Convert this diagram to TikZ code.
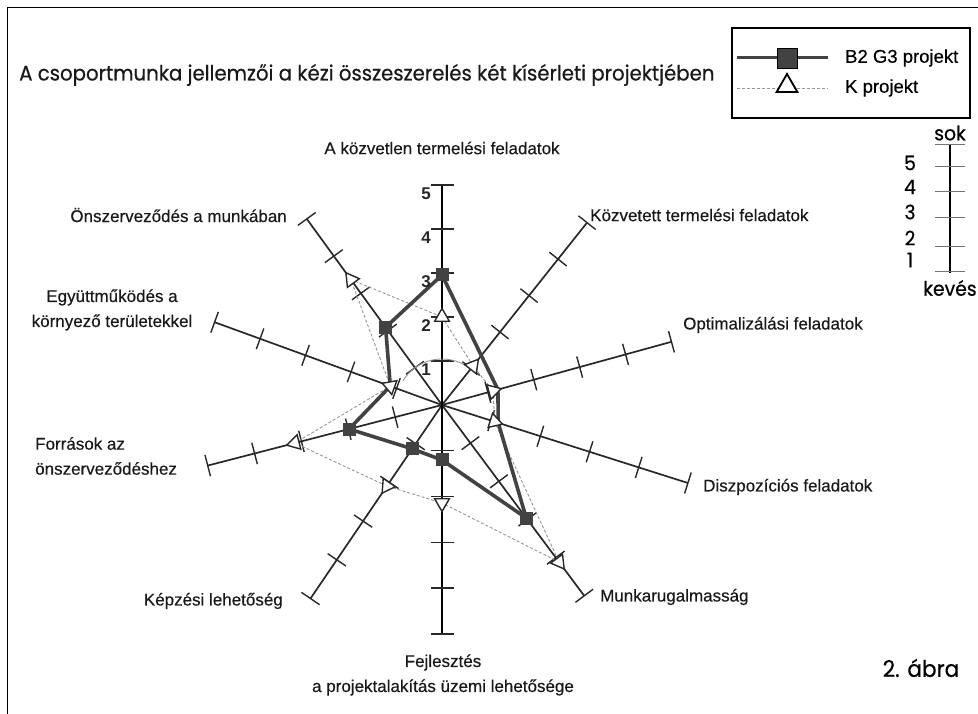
\documentclass[tikz,border=0pt]{standalone}
\usepackage{fontspec}
\setmainfont{Liberation Sans}
\newfontfamily\lblfont[FakeBold=0.35]{Liberation Sans}
\newfontfamily\geofont[FakeStretch=0.94, FakeBold=0.5]{Poppins}
\usetikzlibrary{shapes.geometric}
\definecolor{axisgray}{RGB}{40,40,40}
\definecolor{seriesdark}{RGB}{66,66,66}
\definecolor{serieslight}{RGB}{150,150,150}

\begin{document}
\begin{tikzpicture}[x=1pt, y=1pt]
        \tikzstyle{axis} = [draw=axisgray, line width=1.7pt];
        \tikzstyle{mainaxis} = [draw=black, line width=2.3pt];
        \tikzstyle{tick} = [draw=axisgray, line width=1.4pt];
        \tikzstyle{seriesa} = [draw=seriesdark, line width=3.6pt, line join=round];
        \tikzstyle{seriesb} = [draw=serieslight, line width=0.9pt, dash pattern=on 3pt off 2pt];
        \tikzstyle{sqmark} = [rectangle, fill=seriesdark, minimum size=13pt, inner sep=0pt];
        \tikzstyle{trimark} = [regular polygon, regular polygon sides=3, draw=axisgray, fill=white, line width=1.4pt, minimum size=17pt, inner sep=0pt];
        \tikzstyle{axlabel} = [font=\lblfont\fontsize{17}{25}\selectfont, text=black!90, inner sep=0pt];
        \tikzstyle{axnum} = [font=\bfseries\fontsize{17}{20}\selectfont, text=black!85, inner sep=0pt];
        \tikzstyle{geotext} = [font=\geofont\fontsize{20}{24}\selectfont, inner sep=0pt];

        \useasboundingbox (0,0) rectangle (978,714);
        \draw[line width=1.8pt] (7.5,0) -- (7.5,706.5) -- (978,706.5);

        \node[font=\geofont\fontsize{21}{25}\selectfont, text=black!90, inner sep=0pt, anchor=west] (title) at (19,639) {A csoportmunka jellemzői a kézi összeszerelés két kísérleti projektjében};

        \begin{scope}[shift={(442,309)}]
            \coordinate (c) at (0,0);
            \foreach \ang/\len in {51.5/233, 15.4/238, -17.6/258, -53.3/238, 235.8/234, 194.5/242, 160/242, 126/230} {
                \draw[axis, rotate=\ang] (0,0) -- (\len,0);
                \foreach \k in {1,...,5}
                    \draw[tick, rotate=\ang] (\k*\len/5,-11) -- (\k*\len/5,11);
            }
            \draw[mainaxis] (0,-229) -- (0,220);
            \foreach \k in {1,...,5} {
                \draw[tick] (-11,44*\k) -- (12,44*\k);
                \draw[tick] (-11,-45.8*\k) -- (12,-45.8*\k);
            }

            \coordinate (bup) at (90:130);
            \coordinate (bopt) at (15.4:58);
            \coordinate (bdisp) at (-17.6:59);
            \coordinate (bmunka) at (-53.3:141);
            \coordinate (bdown) at (-90:55);
            \coordinate (bkepz) at (235.8:53);
            \coordinate (bforr) at (194.5:96);
            \coordinate (begy) at (160:55);
            \coordinate (bonsz) at (126:96);

            \coordinate (kup) at (90:88);
            \coordinate (kkozv) at (51.5:50);
            \coordinate (kopt) at (15.4:53);
            \coordinate (kdisp) at (-17.6:55);
            \coordinate (kmunka) at (-53.3:196);
            \coordinate (kdown) at (-90:98);
            \coordinate (kkepz) at (235.8:98);
            \coordinate (kforr) at (194.5:152);
            \coordinate (kegy) at (160:55);
            \coordinate (konsz) at (126:155);

            \draw[draw=serieslight, line width=0.9pt] (148:46) arc[start angle=148, end angle=46, radius=46];
            \draw[seriesb] (kup) -- (kkozv) -- (kopt) -- (kdisp) -- (kmunka) -- (kdown) -- (kkepz) -- (kforr) -- (kegy) -- (konsz) -- cycle;
            \draw[seriesa] (bup) -- (bopt) -- (bdisp) -- (bmunka) -- (bdown) -- (bkepz) -- (bforr) -- (begy) -- (bonsz) -- cycle;

            \foreach \p in {bup, bmunka, bdown, bkepz, bforr, bonsz}
                \node[sqmark] (sq-\p) at (\p) {};
            \foreach \p/\ang in {kup/90, kkozv/51.5, kopt/15.4, kdisp/-17.6, kmunka/-53.3, kdown/-90, kkepz/235.8, kforr/194.5, kegy/160, konsz/126}
                \node[trimark, rotate=\ang-90] (tr-\p) at (\p) {};

            \foreach \k in {1,...,5}
                \node[axnum] (num\k) at (-16,44*\k-9) {\k};
        \end{scope}

        \node[axlabel] (lup) at (442,566) {A közvetlen termelési feladatok};
        \node[axlabel, anchor=west] (lkozv) at (590,499) {Közvetett termelési feladatok};
        \node[axlabel, anchor=west] (lopt) at (683,389) {Optimalizálási feladatok};
        \node[axlabel, anchor=west] (ldisp) at (703,227) {Diszpozíciós feladatok};
        \node[axlabel, anchor=west] (lmunka) at (600,117) {Munkarugalmasság};
        \node[axlabel, align=center] (ldown) at (443,39) {Fejlesztés\\a projektalakítás üzemi lehetősége};
        \node[axlabel, anchor=east] (lkepz) at (283,113) {Képzési lehetőség};
        \node[axlabel, align=left, anchor=west] (lforr) at (35,258) {Források az\\önszerveződéshez};
        \node[axlabel, align=center] (legy) at (112,404) {Együttműködés a\\környező területekkel};
        \node[axlabel, anchor=east] (lonsz) at (287,499) {Önszerveződés a munkában};

        \node[draw=black, line width=2.2pt, minimum width=238pt, minimum height=90pt] (legend) at (851,641) {};
        \coordinate (la1) at (737,656);
        \coordinate (la2) at (828,656);
        \draw[seriesa, line width=3pt] (la1) -- (la2);
        \node[sqmark, minimum size=20pt, draw=black, line width=0.8pt] (lsq) at (787,656) {};
        \coordinate (lb1) at (737,626);
        \coordinate (lb2) at (828,626);
        \draw[seriesb] (lb1) -- (lb2);
        \node[trimark, minimum size=24pt, line width=1.8pt, draw=black] (ltr) at (787,628) {};
        \node[font=\lblfont\fontsize{18.5}{22}\selectfont, inner sep=0pt, anchor=west] (lta) at (845,656) {B2 G3 projekt};
        \node[font=\lblfont\fontsize{18.5}{22}\selectfont, inner sep=0pt, anchor=west] (ltb) at (845,626) {K projekt};

        \coordinate (stop) at (950,569);
        \coordinate (sbot) at (950,441);
        \draw[line width=1.5pt] (stop) -- (sbot);
        \foreach \y in {569,547,522,496,467,442}
            \draw[draw=black!55, line width=1pt] (935,\y) -- (965,\y);
        \node[geotext] (sok) at (950,581) {sok};
        \foreach \k/\y in {5/551,4/527,3/502,2/476,1/454}
            \node[geotext] (s\k) at (910,\y) {\k};
        \node[geotext] (kev) at (950,426) {kevés};
        \node[geotext, font=\geofont\fontsize{23}{27}\selectfont] (abra) at (921,46) {2. ábra};
\end{tikzpicture}
\end{document}
